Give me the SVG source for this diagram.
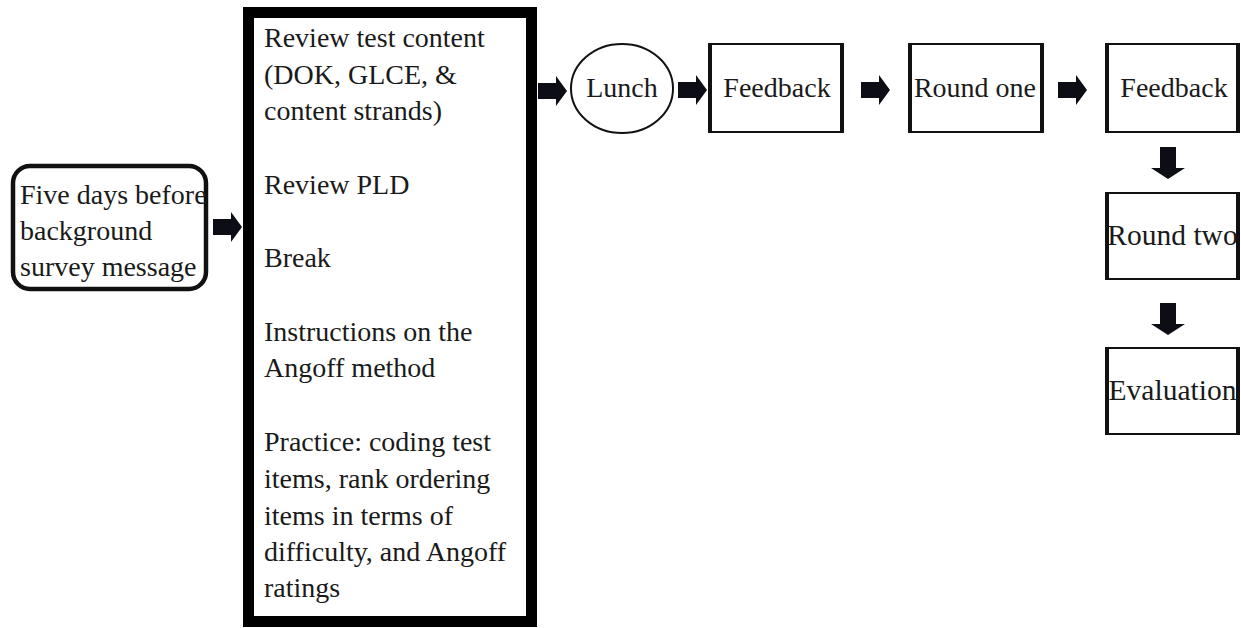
<svg xmlns="http://www.w3.org/2000/svg" xmlns:xlink="http://www.w3.org/1999/xlink" width="1241" height="628" viewBox="0 0 1241 628">
<style>
  .t { font-family: "Liberation Serif", "Times New Roman", serif; font-size: 28px; fill: #1a1a1a; }
  .c { text-anchor: middle; }
  .big { font-size: 29.5px; }
  .box { fill: #ffffff; stroke: #111111; stroke-width: 2; }
  .side { stroke: #111111; stroke-width: 4; }
  .arr { fill: #0d0d16; }
</style>
<defs>
  <path id="harr" d="M0,-8 H18 V-15 L29,0 L18,15 V8 H0 Z"/>
  <path id="varr" d="M-8,0 V21 H-17 L0,32 L17,21 H8 V0 Z"/>
</defs>
<rect width="1241" height="628" fill="#ffffff"/>

<g id="connectors" class="arr">
  <use xlink:href="#harr" href="#harr" x="213" y="227"/>
  <use xlink:href="#harr" href="#harr" x="538" y="91"/>
  <use xlink:href="#harr" href="#harr" x="678" y="90"/>
  <use xlink:href="#harr" href="#harr" x="861" y="90"/>
  <use xlink:href="#harr" href="#harr" x="1058" y="90"/>
  <use xlink:href="#varr" href="#varr" x="1168" y="147"/>
  <use xlink:href="#varr" href="#varr" x="1168" y="303"/>
</g>

<g id="node-start">
  <rect x="13" y="166" width="193" height="123" rx="17" ry="17" fill="#ffffff" stroke="#111111" stroke-width="4.5"/>
  <text class="t" x="20" y="204">Five days before</text>
  <text class="t" x="20" y="240">background</text>
  <text class="t" x="20" y="276">survey message</text>
</g>

<g id="node-morning">
  <rect x="248.5" y="12.5" width="283" height="609" fill="#ffffff" stroke="#000000" stroke-width="11"/>
  <text class="t" x="264" y="47">Review test content</text>
  <text class="t" x="264" y="84">(DOK, GLCE, &amp;</text>
  <text class="t" x="264" y="120">content strands)</text>
  <text class="t" x="264" y="194">Review PLD</text>
  <text class="t" x="264" y="267">Break</text>
  <text class="t" x="264" y="341">Instructions on the</text>
  <text class="t" x="264" y="377">Angoff method</text>
  <text class="t" x="264" y="451">Practice: coding test</text>
  <text class="t" x="264" y="488">items, rank ordering</text>
  <text class="t" x="264" y="525">items in terms of</text>
  <text class="t" x="264" y="561">difficulty, and Angoff</text>
  <text class="t" x="264" y="597">ratings</text>
</g>

<g id="node-lunch">
  <ellipse cx="622" cy="88.5" rx="51" ry="44.5" fill="#ffffff" stroke="#111111" stroke-width="2"/>
  <text class="t c" x="622" y="97">Lunch</text>
</g>

<g id="node-feedback1">
  <rect class="box" x="710" y="44" width="132" height="88"/>
  <line class="side" x1="710" y1="43" x2="710" y2="133"/>
  <line class="side" x1="842" y1="43" x2="842" y2="133"/>
  <text class="t c" x="777" y="97">Feedback</text>
</g>

<g id="node-round1">
  <rect class="box" x="910" y="44" width="132" height="88"/>
  <line class="side" x1="910" y1="43" x2="910" y2="133"/>
  <line class="side" x1="1042" y1="43" x2="1042" y2="133"/>
  <text class="t c" x="975" y="97">Round one</text>
</g>

<g id="node-feedback2">
  <rect class="box" x="1107" y="44" width="131" height="88"/>
  <line class="side" x1="1107" y1="43" x2="1107" y2="133"/>
  <line class="side" x1="1238" y1="43" x2="1238" y2="133"/>
  <text class="t c" x="1174" y="97">Feedback</text>
</g>

<g id="node-round2">
  <rect class="box" x="1107" y="193" width="131" height="86"/>
  <line class="side" x1="1107" y1="192" x2="1107" y2="280"/>
  <line class="side" x1="1238" y1="192" x2="1238" y2="280"/>
  <text class="t c big" x="1172.5" y="245">Round two</text>
</g>

<g id="node-evaluation">
  <rect class="box" x="1107" y="348" width="131" height="86"/>
  <line class="side" x1="1107" y1="347" x2="1107" y2="435"/>
  <line class="side" x1="1238" y1="347" x2="1238" y2="435"/>
  <text class="t c big" x="1172.5" y="400">Evaluation</text>
</g>
</svg>
